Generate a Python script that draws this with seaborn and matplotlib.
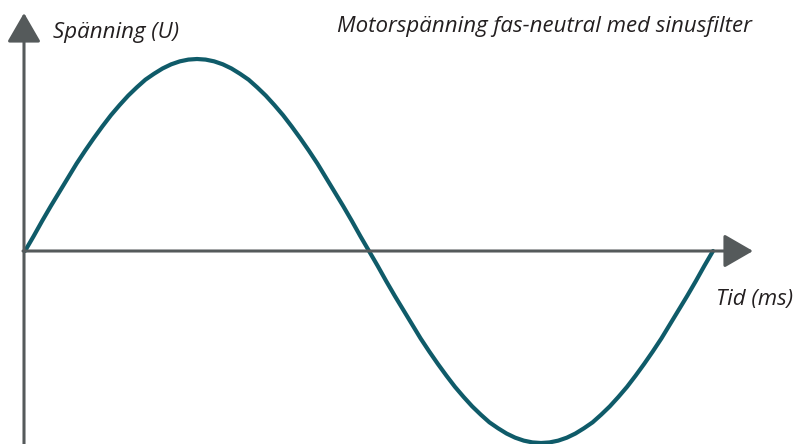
import matplotlib
matplotlib.use('Agg')
import matplotlib.pyplot as plt
import seaborn as sns
import pandas as pd

# Motor voltage phase-neutral with sine filter, one period
time_ms = [0.0, 0.25, 0.5, 0.75, 1.0, 1.25, 1.5, 1.75, 2.0, 2.25,
           2.5, 2.75, 3.0, 3.25, 3.5, 3.75, 4.0, 4.25, 4.5, 4.75,
           5.0, 5.25, 5.5, 5.75, 6.0, 6.25, 6.5, 6.75, 7.0, 7.25,
           7.5, 7.75, 8.0, 8.25, 8.5, 8.75, 9.0, 9.25, 9.5, 9.75,
           10.0, 10.25, 10.5, 10.75, 11.0, 11.25, 11.5, 11.75, 12.0, 12.25,
           12.5, 12.75, 13.0, 13.25, 13.5, 13.75, 14.0, 14.25, 14.5, 14.75,
           15.0, 15.25, 15.5, 15.75, 16.0, 16.25, 16.5, 16.75, 17.0, 17.25,
           17.5, 17.75, 18.0, 18.25, 18.5, 18.75, 19.0, 19.25, 19.5, 19.75,
           20.0]
voltage = [0, 25, 51, 76, 100, 124, 148, 170, 191, 211,
           230, 247, 263, 277, 290, 300, 309, 316, 321, 324,
           325, 324, 321, 316, 309, 300, 290, 277, 263, 247,
           230, 211, 191, 170, 148, 124, 100, 76, 51, 25,
           0, -25, -51, -76, -100, -124, -148, -170, -191, -211,
           -230, -247, -263, -277, -290, -300, -309, -316, -321, -324,
           -325, -324, -321, -316, -309, -300, -290, -277, -263, -247,
           -230, -211, -191, -170, -148, -124, -100, -76, -51, -25,
           0]

title = 'Motorspänning fas-neutral med sinusfilter'
y_label = 'Spänning (U)'
x_label = 'Tid (ms)'

df = pd.DataFrame({'tid': time_ms, 'spanning': voltage})

sns.set_theme(style='white')
plt.rcParams['font.family'] = ['Open Sans', 'DejaVu Sans']

W, H = 796, 444
fig = plt.figure(figsize=(W / 100, H / 100), dpi=100)
ax = fig.add_axes([0, 0, 1, 1])

# pixel layout of the drawing
px_per_ms = 34.4
x0_px, zero_py = 25, 251
v_per_px = 325 / 192


def tx(px):
    return (px - x0_px) / px_per_ms


def vy(py):
    return (zero_py - py) * v_per_px


ax.set_xlim(tx(0), tx(W))
ax.set_ylim(vy(H), vy(0))
ax.axis('off')

axis_col = '#555a5b'
arrow = dict(arrowstyle='-|>,head_length=18,head_width=10.4', mutation_scale=1,
             color=axis_col, lw=2.2, shrinkA=0, shrinkB=0)
# y axis
ax.annotate('', xy=(tx(24), vy(13)), xytext=(tx(24), vy(470)),
            arrowprops=arrow, annotation_clip=False)
# x axis
ax.annotate('', xy=(tx(753), 0), xytext=(tx(23), 0),
            arrowprops=arrow, annotation_clip=False)

sns.lineplot(data=df, x='tid', y='spanning', ax=ax, color='#0f5b69',
             linewidth=3.0, legend=False)
ax.lines[-1].set_solid_capstyle('round')
ax.lines[-1].set_solid_joinstyle('round')

fs = 16
fig.text(53 / W, 1 - 38 / H, y_label, fontsize=fs, style='italic',
         color='#231f20', va='baseline', ha='left')
fig.text(752 / W, 1 - 32 / H, title, fontsize=fs, style='italic',
         color='#231f20', va='baseline', ha='right')
fig.text(793 / W, 1 - 305 / H, x_label, fontsize=fs, style='italic',
         color='#231f20', va='baseline', ha='right')

fig.savefig('out.png', dpi=100)
